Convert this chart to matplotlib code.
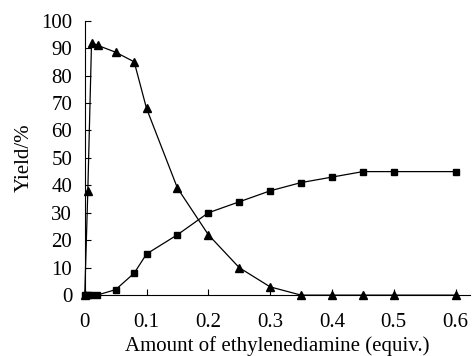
import matplotlib.pyplot as plt

plt.rcParams['font.family'] = ['Liberation Serif', 'DejaVu Serif']

### data
x_tri = [0, 0.005, 0.011, 0.021, 0.05, 0.08, 0.1, 0.15, 0.2, 0.25, 0.3, 0.35, 0.4, 0.45, 0.5, 0.6]
y_tri = [0, 38, 92, 91, 88.5, 85, 68, 39, 22, 10, 3, 0, 0, 0, 0, 0]
x_sq = [0, 0.005, 0.01, 0.02, 0.05, 0.08, 0.1, 0.15, 0.2, 0.25, 0.3, 0.35, 0.4, 0.45, 0.5, 0.6]
y_sq = [0, 0, 0, 0, 2, 8, 15, 22, 30, 34, 38, 41, 43, 45, 45, 45]
x_ticks = [0, 0.1, 0.2, 0.3, 0.4, 0.5, 0.6]
x_labels = ["0", "0.1", "0.2", "0.3", "0.4", "0.5", "0.6"]
y_ticks = list(range(0, 101, 10))

fig = plt.figure(figsize=(4.76, 3.56), dpi=100)
ax = fig.add_axes([0.178, 0.171, 0.809, 0.771])

ax.plot(x_tri, y_tri, color="black", lw=0.9, marker="^", ms=5.5, clip_on=False)
ax.plot(x_sq, y_sq, color="black", lw=0.9, marker="s", ms=5, clip_on=False)

ax.set_xlim(0, 0.623)
ax.set_ylim(0, 100)
ax.set_xticks(x_ticks)
ax.set_xticklabels(x_labels)
ax.set_yticks(y_ticks)
ax.tick_params(direction="in", labelsize=15, length=4, width=0.8, colors="black")
ax.tick_params(axis="x", pad=13)
ax.tick_params(axis="y", pad=9)
ax.spines["top"].set_visible(False)
ax.spines["right"].set_visible(False)
ax.set_xlabel("Amount of ethylenediamine (equiv.)", fontsize=15, labelpad=3)
ax.set_ylabel("Yield/%", fontsize=15, labelpad=5)

plt.savefig("out.png", dpi=100)
